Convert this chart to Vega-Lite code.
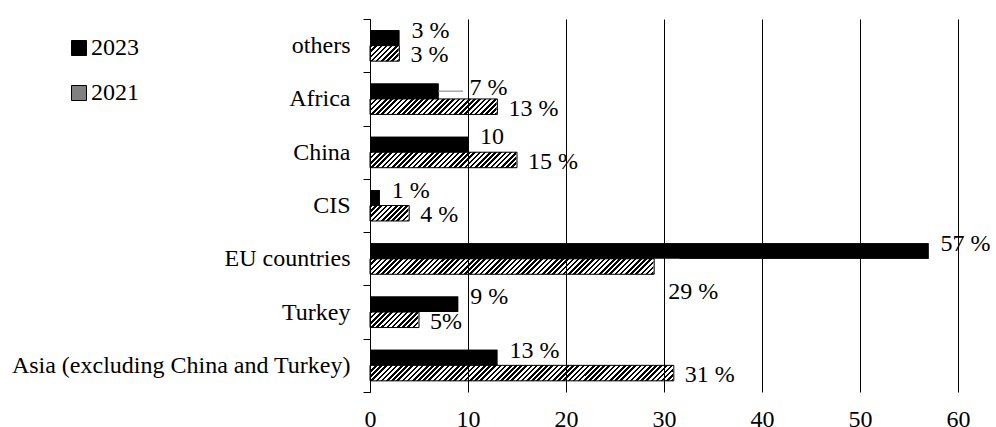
{
  "$schema": "https://vega.github.io/schema/vega-lite/v6.json",
  "width": 588,
  "height": 373,
  "autosize": {"type": "none"},
  "padding": {"left": 370, "top": 19, "right": 38, "bottom": 35},
  "background": "white",
  "config": {
    "font": "Liberation Serif",
    "view": {"stroke": null},
    "legend": {"labelFont": "Liberation Serif"},
    "axisX": {"grid": true, "gridColor": "#000000", "gridWidth": 1, "gridOpacity": 1, "domain": false, "ticks": false, "tickSize": 0, "labelFontSize": 24, "labelFont": "Liberation Serif", "labelColor": "#000000", "labelPadding": 15, "labelFlush": false},
    "axisY": {"grid": false, "domainColor": "#000000", "domainWidth": 1, "tickColor": "#000000", "tickSize": 7, "tickBand": "extent", "labelFontSize": 24, "labelFont": "Liberation Serif", "labelColor": "#000000", "labelPadding": 13, "labelLimit": 400}
  },
  "data": {
    "values": [
      {"region": "others", "year": "2023", "value": 3, "label": "3 %"},
      {"region": "others", "year": "2021", "value": 3, "label": "3 %"},
      {"region": "Africa", "year": "2023", "value": 7, "label": "7 %"},
      {"region": "Africa", "year": "2021", "value": 13, "label": "13 %"},
      {"region": "China", "year": "2023", "value": 10, "label": "10"},
      {"region": "China", "year": "2021", "value": 15, "label": "15 %"},
      {"region": "CIS", "year": "2023", "value": 1, "label": "1 %"},
      {"region": "CIS", "year": "2021", "value": 4, "label": "4 %"},
      {"region": "EU countries", "year": "2023", "value": 57, "label": "57 %"},
      {"region": "EU countries", "year": "2021", "value": 29, "label": "29 %"},
      {"region": "Turkey", "year": "2023", "value": 9, "label": "9 %"},
      {"region": "Turkey", "year": "2021", "value": 5, "label": "5%"},
      {"region": "Asia (excluding China and Turkey)", "year": "2023", "value": 13, "label": "13 %"},
      {"region": "Asia (excluding China and Turkey)", "year": "2021", "value": 31, "label": "31 %"}
    ]
  },
  "encoding": {
    "y": {"field": "region", "type": "nominal", "title": null, "sort": ["others", "Africa", "China", "CIS", "EU countries", "Turkey", "Asia (excluding China and Turkey)"], "scale": {"paddingInner": 0, "paddingOuter": 0}},
    "yOffset": {"field": "year", "type": "nominal", "scale": {"domain": ["2023", "2021"], "paddingInner": 0, "paddingOuter": 0.72}}
  },
  "layer": [
    {
      "mark": {"type": "bar"},
      "encoding": {
        "x": {"field": "value", "type": "quantitative", "title": null, "scale": {"domain": [0, 60], "nice": false}, "axis": {"values": [0, 10, 20, 30, 40, 50, 60], "zindex": 1}},
        "fill": {"field": "year", "type": "nominal", "title": null,
          "scale": {"domain": ["2023", "2021"], "range": ["#000000", "#808080"]},
          "legend": {"orient": "none", "legendX": -303, "legendY": 17, "title": null, "symbolType": "square", "symbolSize": 225, "symbolStrokeColor": "#000000", "symbolStrokeWidth": 1, "labelFontSize": 24, "labelFont": "Liberation Serif", "labelColor": "#000000", "labelOffset": 0, "rowPadding": 21, "padding": 0}}
      }
    },
    {
      "transform": [{"filter": "datum.year === '2021'"}],
      "mark": {"type": "bar", "fill": {"gradient": "linear", "x1": 0, "y1": 0, "x2": 1.0476, "y2": 0.0526, "stops": [
        {"offset": 0, "color": "#000"},
        {"offset": 0.008, "color": "#000"}, {"offset": 0.008, "color": "#fff"},
        {"offset": 0.016, "color": "#fff"}, {"offset": 0.016, "color": "#000"},
        {"offset": 0.024, "color": "#000"}, {"offset": 0.024, "color": "#fff"},
        {"offset": 0.032, "color": "#fff"}, {"offset": 0.032, "color": "#000"},
        {"offset": 0.04, "color": "#000"}, {"offset": 0.04, "color": "#fff"},
        {"offset": 0.048, "color": "#fff"}, {"offset": 0.048, "color": "#000"},
        {"offset": 0.056, "color": "#000"}, {"offset": 0.056, "color": "#fff"},
        {"offset": 0.064, "color": "#fff"}, {"offset": 0.064, "color": "#000"},
        {"offset": 0.072, "color": "#000"}, {"offset": 0.072, "color": "#fff"},
        {"offset": 0.08, "color": "#fff"}, {"offset": 0.08, "color": "#000"},
        {"offset": 0.088, "color": "#000"}, {"offset": 0.088, "color": "#fff"},
        {"offset": 0.096, "color": "#fff"}, {"offset": 0.096, "color": "#000"},
        {"offset": 0.104, "color": "#000"}, {"offset": 0.104, "color": "#fff"},
        {"offset": 0.112, "color": "#fff"}, {"offset": 0.112, "color": "#000"},
        {"offset": 0.12, "color": "#000"}, {"offset": 0.12, "color": "#fff"},
        {"offset": 0.128, "color": "#fff"}, {"offset": 0.128, "color": "#000"},
        {"offset": 0.136, "color": "#000"}, {"offset": 0.136, "color": "#fff"},
        {"offset": 0.144, "color": "#fff"}, {"offset": 0.144, "color": "#000"},
        {"offset": 0.152, "color": "#000"}, {"offset": 0.152, "color": "#fff"},
        {"offset": 0.16, "color": "#fff"}, {"offset": 0.16, "color": "#000"},
        {"offset": 0.168, "color": "#000"}, {"offset": 0.168, "color": "#fff"},
        {"offset": 0.176, "color": "#fff"}, {"offset": 0.176, "color": "#000"},
        {"offset": 0.184, "color": "#000"}, {"offset": 0.184, "color": "#fff"},
        {"offset": 0.192, "color": "#fff"}, {"offset": 0.192, "color": "#000"},
        {"offset": 0.2, "color": "#000"}, {"offset": 0.2, "color": "#fff"},
        {"offset": 0.208, "color": "#fff"}, {"offset": 0.208, "color": "#000"},
        {"offset": 0.216, "color": "#000"}, {"offset": 0.216, "color": "#fff"},
        {"offset": 0.224, "color": "#fff"}, {"offset": 0.224, "color": "#000"},
        {"offset": 0.232, "color": "#000"}, {"offset": 0.232, "color": "#fff"},
        {"offset": 0.24, "color": "#fff"}, {"offset": 0.24, "color": "#000"},
        {"offset": 0.248, "color": "#000"}, {"offset": 0.248, "color": "#fff"},
        {"offset": 0.256, "color": "#fff"}, {"offset": 0.256, "color": "#000"},
        {"offset": 0.264, "color": "#000"}, {"offset": 0.264, "color": "#fff"},
        {"offset": 0.272, "color": "#fff"}, {"offset": 0.272, "color": "#000"},
        {"offset": 0.28, "color": "#000"}, {"offset": 0.28, "color": "#fff"},
        {"offset": 0.288, "color": "#fff"}, {"offset": 0.288, "color": "#000"},
        {"offset": 0.296, "color": "#000"}, {"offset": 0.296, "color": "#fff"},
        {"offset": 0.304, "color": "#fff"}, {"offset": 0.304, "color": "#000"},
        {"offset": 0.312, "color": "#000"}, {"offset": 0.312, "color": "#fff"},
        {"offset": 0.32, "color": "#fff"}, {"offset": 0.32, "color": "#000"},
        {"offset": 0.328, "color": "#000"}, {"offset": 0.328, "color": "#fff"},
        {"offset": 0.336, "color": "#fff"}, {"offset": 0.336, "color": "#000"},
        {"offset": 0.344, "color": "#000"}, {"offset": 0.344, "color": "#fff"},
        {"offset": 0.352, "color": "#fff"}, {"offset": 0.352, "color": "#000"},
        {"offset": 0.36, "color": "#000"}, {"offset": 0.36, "color": "#fff"},
        {"offset": 0.368, "color": "#fff"}, {"offset": 0.368, "color": "#000"},
        {"offset": 0.376, "color": "#000"}, {"offset": 0.376, "color": "#fff"},
        {"offset": 0.384, "color": "#fff"}, {"offset": 0.384, "color": "#000"},
        {"offset": 0.392, "color": "#000"}, {"offset": 0.392, "color": "#fff"},
        {"offset": 0.4, "color": "#fff"}, {"offset": 0.4, "color": "#000"},
        {"offset": 0.408, "color": "#000"}, {"offset": 0.408, "color": "#fff"},
        {"offset": 0.416, "color": "#fff"}, {"offset": 0.416, "color": "#000"},
        {"offset": 0.424, "color": "#000"}, {"offset": 0.424, "color": "#fff"},
        {"offset": 0.432, "color": "#fff"}, {"offset": 0.432, "color": "#000"},
        {"offset": 0.44, "color": "#000"}, {"offset": 0.44, "color": "#fff"},
        {"offset": 0.448, "color": "#fff"}, {"offset": 0.448, "color": "#000"},
        {"offset": 0.456, "color": "#000"}, {"offset": 0.456, "color": "#fff"},
        {"offset": 0.464, "color": "#fff"}, {"offset": 0.464, "color": "#000"},
        {"offset": 0.472, "color": "#000"}, {"offset": 0.472, "color": "#fff"},
        {"offset": 0.48, "color": "#fff"}, {"offset": 0.48, "color": "#000"},
        {"offset": 0.488, "color": "#000"}, {"offset": 0.488, "color": "#fff"},
        {"offset": 0.496, "color": "#fff"}, {"offset": 0.496, "color": "#000"},
        {"offset": 0.504, "color": "#000"}, {"offset": 0.504, "color": "#fff"},
        {"offset": 0.512, "color": "#fff"}, {"offset": 0.512, "color": "#000"},
        {"offset": 0.52, "color": "#000"}, {"offset": 0.52, "color": "#fff"},
        {"offset": 0.528, "color": "#fff"}, {"offset": 0.528, "color": "#000"},
        {"offset": 0.536, "color": "#000"}, {"offset": 0.536, "color": "#fff"},
        {"offset": 0.544, "color": "#fff"}, {"offset": 0.544, "color": "#000"},
        {"offset": 0.552, "color": "#000"}, {"offset": 0.552, "color": "#fff"},
        {"offset": 0.56, "color": "#fff"}, {"offset": 0.56, "color": "#000"},
        {"offset": 0.568, "color": "#000"}, {"offset": 0.568, "color": "#fff"},
        {"offset": 0.576, "color": "#fff"}, {"offset": 0.576, "color": "#000"},
        {"offset": 0.584, "color": "#000"}, {"offset": 0.584, "color": "#fff"},
        {"offset": 0.592, "color": "#fff"}, {"offset": 0.592, "color": "#000"},
        {"offset": 0.6, "color": "#000"}, {"offset": 0.6, "color": "#fff"},
        {"offset": 0.608, "color": "#fff"}, {"offset": 0.608, "color": "#000"},
        {"offset": 0.616, "color": "#000"}, {"offset": 0.616, "color": "#fff"},
        {"offset": 0.624, "color": "#fff"}, {"offset": 0.624, "color": "#000"},
        {"offset": 0.632, "color": "#000"}, {"offset": 0.632, "color": "#fff"},
        {"offset": 0.64, "color": "#fff"}, {"offset": 0.64, "color": "#000"},
        {"offset": 0.648, "color": "#000"}, {"offset": 0.648, "color": "#fff"},
        {"offset": 0.656, "color": "#fff"}, {"offset": 0.656, "color": "#000"},
        {"offset": 0.664, "color": "#000"}, {"offset": 0.664, "color": "#fff"},
        {"offset": 0.672, "color": "#fff"}, {"offset": 0.672, "color": "#000"},
        {"offset": 0.68, "color": "#000"}, {"offset": 0.68, "color": "#fff"},
        {"offset": 0.688, "color": "#fff"}, {"offset": 0.688, "color": "#000"},
        {"offset": 0.696, "color": "#000"}, {"offset": 0.696, "color": "#fff"},
        {"offset": 0.704, "color": "#fff"}, {"offset": 0.704, "color": "#000"},
        {"offset": 0.712, "color": "#000"}, {"offset": 0.712, "color": "#fff"},
        {"offset": 0.72, "color": "#fff"}, {"offset": 0.72, "color": "#000"},
        {"offset": 0.728, "color": "#000"}, {"offset": 0.728, "color": "#fff"},
        {"offset": 0.736, "color": "#fff"}, {"offset": 0.736, "color": "#000"},
        {"offset": 0.744, "color": "#000"}, {"offset": 0.744, "color": "#fff"},
        {"offset": 0.752, "color": "#fff"}, {"offset": 0.752, "color": "#000"},
        {"offset": 0.76, "color": "#000"}, {"offset": 0.76, "color": "#fff"},
        {"offset": 0.768, "color": "#fff"}, {"offset": 0.768, "color": "#000"},
        {"offset": 0.776, "color": "#000"}, {"offset": 0.776, "color": "#fff"},
        {"offset": 0.784, "color": "#fff"}, {"offset": 0.784, "color": "#000"},
        {"offset": 0.792, "color": "#000"}, {"offset": 0.792, "color": "#fff"},
        {"offset": 0.8, "color": "#fff"}, {"offset": 0.8, "color": "#000"},
        {"offset": 0.808, "color": "#000"}, {"offset": 0.808, "color": "#fff"},
        {"offset": 0.816, "color": "#fff"}, {"offset": 0.816, "color": "#000"},
        {"offset": 0.824, "color": "#000"}, {"offset": 0.824, "color": "#fff"},
        {"offset": 0.832, "color": "#fff"}, {"offset": 0.832, "color": "#000"},
        {"offset": 0.84, "color": "#000"}, {"offset": 0.84, "color": "#fff"},
        {"offset": 0.848, "color": "#fff"}, {"offset": 0.848, "color": "#000"},
        {"offset": 0.856, "color": "#000"}, {"offset": 0.856, "color": "#fff"},
        {"offset": 0.864, "color": "#fff"}, {"offset": 0.864, "color": "#000"},
        {"offset": 0.872, "color": "#000"}, {"offset": 0.872, "color": "#fff"},
        {"offset": 0.88, "color": "#fff"}, {"offset": 0.88, "color": "#000"},
        {"offset": 0.888, "color": "#000"}, {"offset": 0.888, "color": "#fff"},
        {"offset": 0.896, "color": "#fff"}, {"offset": 0.896, "color": "#000"},
        {"offset": 0.904, "color": "#000"}, {"offset": 0.904, "color": "#fff"},
        {"offset": 0.912, "color": "#fff"}, {"offset": 0.912, "color": "#000"},
        {"offset": 0.92, "color": "#000"}, {"offset": 0.92, "color": "#fff"},
        {"offset": 0.928, "color": "#fff"}, {"offset": 0.928, "color": "#000"},
        {"offset": 0.936, "color": "#000"}, {"offset": 0.936, "color": "#fff"},
        {"offset": 0.944, "color": "#fff"}, {"offset": 0.944, "color": "#000"},
        {"offset": 0.952, "color": "#000"}, {"offset": 0.952, "color": "#fff"},
        {"offset": 0.96, "color": "#fff"}, {"offset": 0.96, "color": "#000"},
        {"offset": 0.968, "color": "#000"}, {"offset": 0.968, "color": "#fff"},
        {"offset": 0.976, "color": "#fff"}, {"offset": 0.976, "color": "#000"},
        {"offset": 0.984, "color": "#000"}, {"offset": 0.984, "color": "#fff"},
        {"offset": 0.992, "color": "#fff"}, {"offset": 0.992, "color": "#000"},
        {"offset": 1, "color": "#000"}
      ]}},
      "encoding": {
        "x": {"datum": 0, "type": "quantitative", "title": null},
        "x2": {"datum": 31.5}
      }
    },
    {
      "transform": [{"filter": "datum.year === '2021'"}],
      "mark": {"type": "bar", "fill": "#ffffff", "stroke": "#ffffff", "strokeWidth": 1.5},
      "encoding": {
        "x": {"field": "value", "type": "quantitative", "title": null},
        "x2": {"datum": 31.5}
      }
    },
    {
      "transform": [{"filter": "datum.year === '2023'"}],
      "mark": {"type": "bar", "fill": "#000000"},
      "encoding": {
        "x": {"field": "value", "type": "quantitative", "title": null}
      }
    },
    {
      "transform": [{"filter": "datum.year === '2021'"}],
      "mark": {"type": "bar", "fill": "transparent", "stroke": "#000000", "strokeWidth": 1},
      "encoding": {
        "x": {"field": "value", "type": "quantitative", "title": null}
      }
    },
    {
      "transform": [{"filter": "datum.year === '2023' && datum.region === 'Africa'"}],
      "mark": {"type": "rule", "color": "#a6a6a6", "strokeWidth": 1.5},
      "encoding": {
        "x": {"field": "value", "type": "quantitative", "title": null},
        "x2": {"datum": 9.5}
      }
    },
    {
      "transform": [{"filter": "datum.year === '2023' && datum.region !== 'Africa'"}],
      "mark": {"type": "text", "align": "left", "baseline": "middle", "dx": 12, "dy": -7, "fontSize": 24, "font": "Liberation Serif", "color": "#000000"},
      "encoding": {
        "x": {"field": "value", "type": "quantitative", "title": null},
        "text": {"field": "label"}
      }
    },
    {
      "transform": [{"filter": "datum.year === '2023' && datum.region === 'Africa'"}],
      "mark": {"type": "text", "align": "left", "baseline": "middle", "dx": 31, "dy": -3, "fontSize": 24, "font": "Liberation Serif", "color": "#000000"},
      "encoding": {
        "x": {"field": "value", "type": "quantitative", "title": null},
        "text": {"field": "label"}
      }
    },
    {
      "transform": [{"filter": "datum.year === '2021' && datum.region !== 'EU countries'"}],
      "mark": {"type": "text", "align": "left", "baseline": "middle", "dx": 11, "dy": 2, "fontSize": 24, "font": "Liberation Serif", "color": "#000000"},
      "encoding": {
        "x": {"field": "value", "type": "quantitative", "title": null},
        "text": {"field": "label"}
      }
    },
    {
      "transform": [{"filter": "datum.year === '2021' && datum.region === 'EU countries'"}],
      "mark": {"type": "text", "align": "left", "baseline": "middle", "dx": 14, "dy": 25, "fontSize": 24, "font": "Liberation Serif", "color": "#000000"},
      "encoding": {
        "x": {"field": "value", "type": "quantitative", "title": null},
        "text": {"field": "label"}
      }
    }
  ]
}
